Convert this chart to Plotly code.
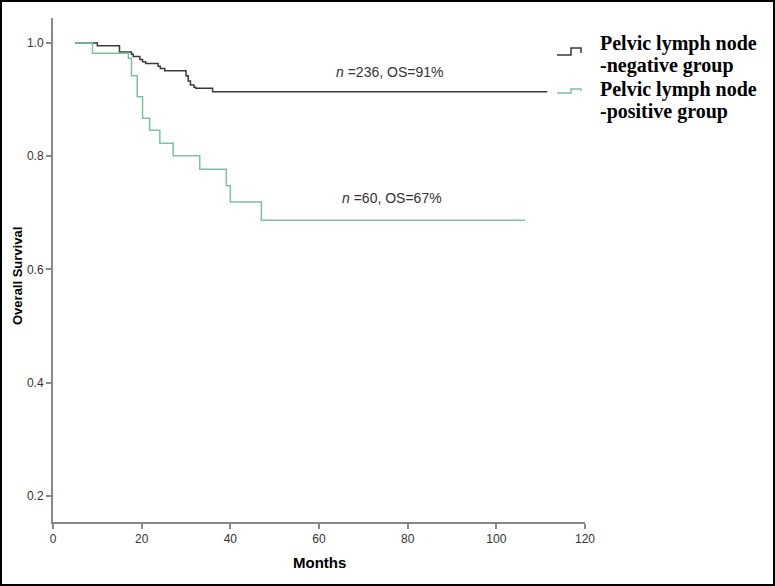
import plotly.graph_objects as go

# Kaplan-Meier step data (months, survival)
neg_months = [5, 10, 15, 17.7, 18.1, 19.6, 20.2, 20.9, 23.7, 24.2, 25.2, 30.0, 30.5, 31.0, 31.8, 32.2, 36.0, 111.5]
neg_surv = [1.0, 0.995, 0.984, 0.980, 0.976, 0.971, 0.967, 0.964, 0.959, 0.955, 0.951, 0.942, 0.933, 0.926, 0.922, 0.920, 0.914, 0.914]

pos_months = [5, 8.9, 17.0, 17.7, 19.0, 20.2, 21.8, 24.1, 27.1, 33.1, 39.1, 40.0, 47.0, 106.5]
pos_surv = [1.0, 0.982, 0.973, 0.942, 0.905, 0.867, 0.846, 0.823, 0.801, 0.777, 0.748, 0.719, 0.687, 0.687]

series_lines = [["Pelvic lymph node", "-negative group"], ["Pelvic lymph node", "-positive group"]]
series_colors = ["#3a3a3a", "#7cc39c"]
annot_text = ["<i>n</i> =236, OS=91%", "<i>n</i> =60, OS=67%"]
annot_x = [76, 76.5]
annot_y = [0.949, 0.727]

x_ticks = [0, 20, 40, 60, 80, 100, 120]
y_ticks = [0.2, 0.4, 0.6, 0.8, 1.0]

fig = go.Figure()
fig.add_trace(go.Scatter(x=neg_months, y=neg_surv, mode="lines", line_shape="hv",
                         line=dict(color=series_colors[0], width=1.5),
                         name=" ".join(series_lines[0]), showlegend=False))
fig.add_trace(go.Scatter(x=pos_months, y=pos_surv, mode="lines", line_shape="hv",
                         line=dict(color=series_colors[1], width=1.5),
                         name=" ".join(series_lines[1]), showlegend=False))

for t, xx, yy in zip(annot_text, annot_x, annot_y):
    fig.add_annotation(x=xx, y=yy, text=t, showarrow=False, xref="x", yref="y",
                       font=dict(family="Liberation Sans, Arial", size=14, color="#333333"))

L, R, T, B = 53, 190, 18, 64
W, H = 775, 586
pw, ph = W - L - R, H - T - B


def px(x):
    return (x - L) / pw


def py(y):
    return (H - B - y) / ph


# axis titles
fig.add_annotation(text="<b>Months</b>", xref="paper", yref="paper",
                   x=px(319), y=py(562), showarrow=False,
                   xanchor="center", yanchor="middle",
                   font=dict(family="Liberation Sans, Arial", size=15, color="black"))
fig.add_annotation(text="<b>Overall Survival</b>", xref="paper", yref="paper",
                   x=px(17), y=py(276), showarrow=False, textangle=-90,
                   xanchor="center", yanchor="middle",
                   font=dict(family="Liberation Sans, Arial", size=13, color="black"))

# legend (text lines + step icons)
legend_line_y = [[43, 65], [89, 111]]
icon_y = [(55, 48), (93, 89)]
for lines, ys, col, (ylo, yhi) in zip(series_lines, legend_line_y, series_colors, icon_y):
    for txt, yy in zip(lines, ys):
        fig.add_annotation(text="<b>" + txt + "</b>", xref="paper", yref="paper",
                           x=px(598), y=py(yy), showarrow=False, xanchor="left", yanchor="middle",
                           font=dict(family="Liberation Serif, Times New Roman", size=20, color="black"))
    fig.add_shape(type="path", xref="paper", yref="paper",
                  path=f"M{px(557)},{py(ylo)} H{px(571)} V{py(yhi)} H{px(581)} V{py(ylo - 2)}",
                  line=dict(color=col, width=1.5))

# outer frame
fig.add_shape(type="rect", xref="paper", yref="paper",
              x0=px(1), x1=px(W - 1), y0=py(H - 1), y1=py(1),
              line=dict(color="black", width=2), fillcolor="rgba(0,0,0,0)")

fig.update_layout(
    width=W, height=H,
    margin=dict(l=L, r=R, t=T, b=B, autoexpand=False),
    plot_bgcolor="white", paper_bgcolor="white",
    showlegend=False,
    font=dict(family="Liberation Sans, Arial", size=12, color="#333333"),
    xaxis=dict(range=[0, 120], tickvals=x_ticks, showgrid=False, zeroline=False,
               showline=True, linecolor="#888888", linewidth=2, automargin=False,
               ticks="outside", ticklen=5, tickcolor="#888888", tickwidth=1.5,
               tickfont=dict(size=12, color="#333333")),
    yaxis=dict(range=[0.154, 1.0442], tickvals=y_ticks, tickformat=".1f", showgrid=False, zeroline=False,
               showline=True, linecolor="#888888", linewidth=2, automargin=False,
               ticks="outside", ticklen=5, tickcolor="#888888", tickwidth=1.5,
               tickfont=dict(size=12, color="#333333")),
)

fig.write_html("out.html", config={"displayModeBar": False},
               post_script="document.body.style.margin='0';document.body.style.overflow='hidden';")
